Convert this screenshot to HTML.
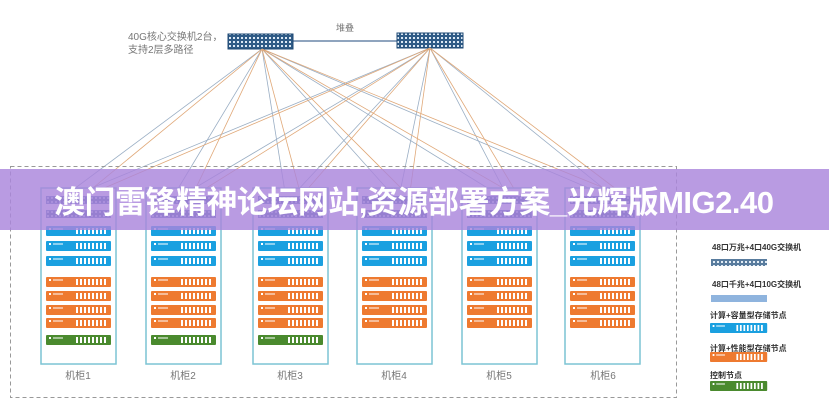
<!DOCTYPE html>
<html><head><meta charset="utf-8"><style>
body{margin:0;width:829px;height:400px;overflow:hidden;background:#fff;font-family:"Liberation Sans","Noto Sans CJK SC",sans-serif;position:relative}
.a{position:absolute}
</style></head><body>
<svg class="a" style="left:0;top:0" width="829" height="400" xmlns="http://www.w3.org/2000/svg">
<defs>
<pattern id="sw" width="4" height="4" patternUnits="userSpaceOnUse"><rect width="4" height="4" fill="#2f5b86"/><rect x="1" y="1" width="2" height="2" fill="#dce8f4"/></pattern>
<g id="srv"><rect width="65" height="10" rx="1"/><rect x="3" y="2" width="2" height="2" fill="#fff"/><rect x="7" y="2.5" width="10" height="1" fill="#fff"/>
<g fill="#fff"><rect x="30" y="2" width="2" height="6"/><rect x="34" y="2" width="2" height="6"/><rect x="38" y="2" width="2" height="6"/><rect x="42" y="2" width="2" height="6"/><rect x="46" y="2" width="2" height="6"/><rect x="50" y="2" width="2" height="6"/><rect x="54" y="2" width="2" height="6"/><rect x="58" y="2" width="2" height="6"/></g></g>
<g id="tsw"><rect width="65" height="8" fill="#5b78b8"/><rect x="1" y="1" width="63" height="6" fill="url(#sw)" opacity=".6"/></g>
</defs>
<text x="128" y="40" font-size="10" fill="#777">40G核心交换机2台，</text>
<text x="128" y="53" font-size="10" fill="#777">支持2层多路径</text>
<text x="336" y="31" font-size="9" fill="#777">堆叠</text>
<line x1="293" y1="41" x2="397" y2="41" stroke="#6a86a8" stroke-width="1.5"/>
<rect x="228" y="34" width="65" height="15" fill="url(#sw)" stroke="#1f4a74"/>
<rect x="397" y="33" width="66" height="15" fill="url(#sw)" stroke="#1f4a74"/>
<g stroke-width="0.8" fill="none">
<g stroke="#9aaec4">
<path d="M262 49L70 192M262 49L176 192M262 49L285 192M262 49L390 192M262 49L494 192M262 49L598 192"/>
<path d="M430 48L82 192M430 48L188 192M430 48L296 192M430 48L400 192M430 48L505 192M430 48L608 192"/>
</g>
<g stroke="#e0a878">
<path d="M262 49L88 192M262 49L194 192M262 49L300 192M262 49L405 192M262 49L510 192M262 49L614 192"/>
<path d="M430 48L95 192M430 48L200 192M430 48L305 192M430 48L410 192M430 48L516 192M430 48L620 192"/>
</g></g>
<rect x="10.5" y="166.5" width="666" height="231" fill="none" stroke="#999" stroke-dasharray="4,3"/>
<g id="c1">
<rect x="41" y="188" width="75" height="176" fill="#fff" stroke="#7cc4d4" stroke-width="1.5"/>
<use href="#tsw" x="46" y="196"/><use href="#tsw" x="46" y="210"/>
<use href="#srv" x="46" y="226" fill="#1aa0e0"/><use href="#srv" x="46" y="241" fill="#1aa0e0"/><use href="#srv" x="46" y="256" fill="#1aa0e0"/>
<use href="#srv" x="46" y="277" fill="#ee7a30"/><use href="#srv" x="46" y="291" fill="#ee7a30"/><use href="#srv" x="46" y="305" fill="#ee7a30"/><use href="#srv" x="46" y="318" fill="#ee7a30"/>
</g>
<use href="#srv" x="46" y="335" fill="#4a8a2e"/>
<use href="#c1" x="105"/><use href="#srv" x="151" y="335" fill="#4a8a2e"/>
<use href="#c1" x="212"/><use href="#srv" x="258" y="335" fill="#4a8a2e"/>
<use href="#c1" x="316"/><use href="#c1" x="421"/><use href="#c1" x="524"/>
<g font-size="10" fill="#777" text-anchor="middle">
<text x="78" y="379">机柜1</text><text x="183" y="379">机柜2</text><text x="290" y="379">机柜3</text><text x="394" y="379">机柜4</text><text x="499" y="379">机柜5</text><text x="603" y="379">机柜6</text>
</g>
<g font-size="8" fill="#333" font-weight="bold">
<text x="712" y="250">48口万兆+4口40G交换机</text>
<text x="712" y="287">48口千兆+4口10G交换机</text>
<text x="710" y="318">计算+容量型存储节点</text>
<text x="710" y="351">计算+性能型存储节点</text>
<text x="710" y="378">控制节点</text>
</g>
<rect x="711" y="259" width="56" height="7" fill="url(#sw)" opacity=".8"/>
<rect x="711" y="295" width="56" height="7" fill="#8fb4de"/>
<use href="#srv" x="710" y="323" fill="#1aa0e0" style="transform:scale(.88,1);transform-origin:710px 0"/>
<use href="#srv" x="710" y="352" fill="#ee7a30" style="transform:scale(.88,1);transform-origin:710px 0"/>
<use href="#srv" x="710" y="381" fill="#4a8a2e" style="transform:scale(.88,1);transform-origin:710px 0"/>
<rect x="0" y="169" width="829" height="61" fill="#a985dc" opacity=".82"/>
<text x="414" y="213" font-size="31" font-weight="bold" fill="#fff" text-anchor="middle" textLength="720" font-family="Liberation Sans,Noto Sans CJK SC,sans-serif">澳门雷锋精神论坛网站,资源部署方案_光辉版MIG2.40</text>
</svg>
</body></html>
